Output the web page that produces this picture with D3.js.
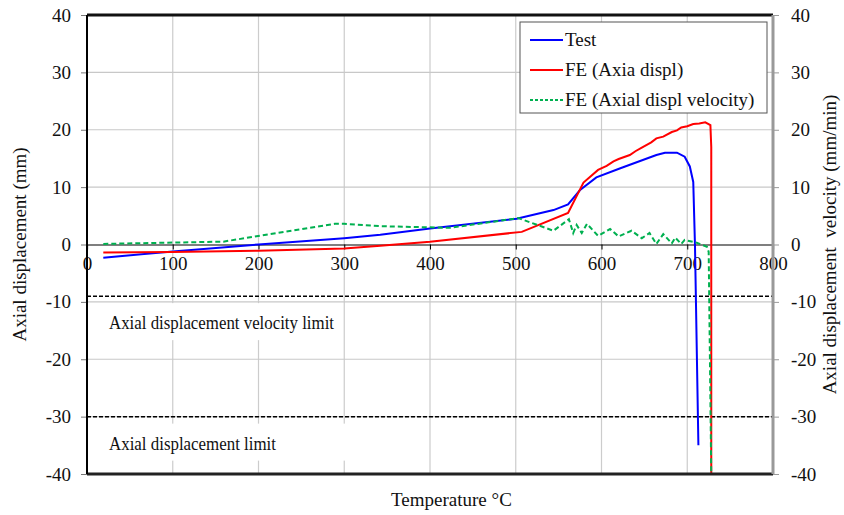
<!DOCTYPE html>
<html>
<head>
<meta charset="utf-8">
<script src="https://cdn.jsdelivr.net/npm/d3@7"></script>
<style>
  body { margin: 0; background: #fff; }
  svg text { font-family: "Liberation Serif", "Times New Roman", Times, serif !important; fill: #111; }
</style>
</head>
<body>
<div id="chart"></div>
<script>
// --- Data ---
const xTicks = [0, 100, 200, 300, 400, 500, 600, 700, 800];
const yTicks = [-40, -30, -20, -10, 0, 10, 20, 30, 40];

const testTemp = [19, 100, 200, 300, 342, 400, 501, 544, 561, 575, 594, 622, 664, 674, 688, 697, 703, 707, 709, 713];
const testDispl = [-2.3, -1.2, 0, 1.1, 1.7, 2.8, 4.5, 6.0, 7.0, 9.5, 11.7, 13.3, 15.6, 16.0, 16.0, 15.3, 13.6, 10.9, 0, -35];

const feTemp = [19, 100, 200, 300, 342, 360, 400, 507, 561, 579, 596, 606, 614, 620, 633, 640, 647, 658, 664, 672, 682, 688, 693, 700, 707, 714, 721, 727, 728, 728];
const feDispl = [-1.4, -1.3, -1.1, -0.7, -0.2, 0, 0.5, 2.2, 5.5, 10.8, 13.0, 13.7, 14.5, 14.9, 15.6, 16.3, 16.9, 17.8, 18.5, 18.8, 19.6, 19.9, 20.4, 20.6, 21.0, 21.1, 21.3, 20.8, 17.0, -40];

const velTemp = [19, 159, 289, 300, 342, 423, 503, 544, 562, 567, 571, 577, 583, 596, 610, 620, 635, 647, 656, 664, 672, 682, 686, 693, 697, 711, 723, 725, 728];
const velValue = [0.1, 0.5, 3.6, 3.6, 3.2, 2.9, 4.6, 2.4, 4.4, 2.0, 3.4, 2.0, 3.6, 1.5, 2.7, 1.4, 2.4, 1.1, 2.0, 0.1, 1.8, 0.2, 1.2, 0.1, 0.8, 0.3, -0.4, -1.3, -40];

const velocityLimit = -9;
const displacementLimit = -30;

const series = [
  { name: 'Test', x: testTemp, y: testDispl, color: '#0000ff', dash: null },
  { name: 'FE (Axia displ)', x: feTemp, y: feDispl, color: '#ff0000', dash: null },
  { name: 'FE (Axial displ velocity)', x: velTemp, y: velValue, color: '#00b050', dash: '5,3' }
];

// --- Layout ---
const W = 844, H = 515;
const margin = { top: 15, right: 71, bottom: 41, left: 87 };
const width = W - margin.left - margin.right;
const height = H - margin.top - margin.bottom;
const FONT = '"Liberation Serif", "Times New Roman", Times, serif';

const svg = d3.select('#chart').append('svg')
  .attr('width', W).attr('height', H)
  .attr('font-family', FONT);

const g = svg.append('g')
  .attr('transform', `translate(${margin.left},${margin.top})`);

const x = d3.scaleLinear().domain([0, 800]).range([0, width]);
const y = d3.scaleLinear().domain([-40, 40]).range([height, 0]);

// Gridlines
g.append('g').selectAll('line.vg')
  .data(xTicks.slice(1, -1)).enter().append('line')
  .attr('x1', d => x(d)).attr('x2', d => x(d))
  .attr('y1', 0).attr('y2', height)
  .attr('stroke', '#cccccc').attr('stroke-width', 1.2);

g.append('g').selectAll('line.hg')
  .data(yTicks.filter(d => d !== 0 && d !== 40 && d !== -40)).enter().append('line')
  .attr('x1', 0).attr('x2', width)
  .attr('y1', d => y(d)).attr('y2', d => y(d))
  .attr('stroke', '#c8c8c8').attr('stroke-width', 1.2);

// Limit labels with white boxes (they hide the gridlines behind them)
const limitLabels = [
  { text: 'Axial displacement velocity limit', yv: velocityLimit, len: 225, boxW: 246 },
  { text: 'Axial displacement limit', yv: displacementLimit, len: 167, boxW: 258 }
];
limitLabels.forEach(l => {
  const top = y(l.yv) + 7;
  g.append('rect')
    .attr('x', 8).attr('y', top)
    .attr('width', l.boxW).attr('height', 37)
    .attr('fill', '#fff');
  g.append('text')
    .attr('x', 22).attr('y', top + 26)
    .attr('font-size', 18)
    .attr('textLength', l.len)
    .attr('lengthAdjust', 'spacingAndGlyphs')
    .text(l.text);
});

// Dashed limit lines
g.append('g').selectAll('line.limit')
  .data([velocityLimit, displacementLimit]).enter().append('line')
  .attr('x1', 0).attr('x2', width)
  .attr('y1', d => y(d)).attr('y2', d => y(d))
  .attr('stroke', '#000').attr('stroke-width', 1.5)
  .attr('stroke-dasharray', '4,2');

function styleTicks(sel) {
  sel.attr('font-family', FONT);
  sel.selectAll('text')
    .style('font-family', FONT)
    .style('font-size', '19px')
    .attr('fill', '#111');
}

// Zero axis with ticks and labels
const xAxis = g.append('g')
  .attr('transform', `translate(0,${y(0)})`)
  .call(d3.axisBottom(x).tickValues(xTicks).tickSize(5).tickPadding(7).tickFormat(d => String(d)));
xAxis.select('.domain').attr('stroke', '#000').attr('stroke-width', 1.2);
xAxis.selectAll('line').attr('stroke', '#000');
styleTicks(xAxis);

// Left axis
const yLeft = g.append('g')
  .call(d3.axisLeft(y).tickValues(yTicks).tickSize(6).tickPadding(10).tickFormat(d => String(d)));
yLeft.select('.domain').remove();
yLeft.selectAll('line').attr('stroke', '#777');
styleTicks(yLeft);

// Right axis
const yRight = g.append('g')
  .attr('transform', `translate(${width},0)`)
  .call(d3.axisRight(y).tickValues(yTicks).tickSize(6).tickPadding(12).tickFormat(d => String(d)));
yRight.select('.domain').remove();
yRight.selectAll('line').attr('stroke', '#999');
styleTicks(yRight);

// Series
const line = d3.line().x(d => x(d[0])).y(d => y(d[1]));
series.forEach(s => {
  g.append('path')
    .datum(s.x.map((t, i) => [t, s.y[i]]))
    .attr('d', line)
    .attr('fill', 'none')
    .attr('stroke', s.color)
    .attr('stroke-width', 2)
    .attr('stroke-dasharray', s.dash);
});

// Frame
g.append('line').attr('x1', 0).attr('x2', width).attr('y1', 0).attr('y2', 0)
  .attr('stroke', '#111').attr('stroke-width', 3);
g.append('line').attr('x1', 0).attr('x2', width).attr('y1', height).attr('y2', height)
  .attr('stroke', '#222').attr('stroke-width', 3);
g.append('line').attr('x1', 0).attr('x2', 0).attr('y1', 0).attr('y2', height)
  .attr('stroke', '#000').attr('stroke-width', 2);
g.append('line').attr('x1', width).attr('x2', width).attr('y1', 0).attr('y2', height)
  .attr('stroke', '#999').attr('stroke-width', 3);

// Legend
const legend = g.append('g').attr('transform', `translate(${433},${7})`);
legend.append('rect')
  .attr('width', 247).attr('height', 91)
  .attr('fill', '#fff').attr('stroke', '#555').attr('stroke-width', 1);
series.forEach((s, i) => {
  const ly = 18 + i * 30;
  legend.append('line')
    .attr('x1', 10).attr('x2', 43).attr('y1', ly).attr('y2', ly)
    .attr('stroke', s.color).attr('stroke-width', 2)
    .attr('stroke-dasharray', s.dash ? '3,2' : null);
  legend.append('text')
    .attr('x', 45).attr('y', ly + 6)
    .attr('font-size', 19)
    .text(s.name);
});

// Axis titles
svg.append('text')
  .attr('transform', `translate(26,${margin.top + y(0)}) rotate(-90)`)
  .attr('text-anchor', 'middle')
  .attr('font-size', 19)
  .text('Axial displacement (mm)');

svg.append('text')
  .attr('transform', `translate(836,${margin.top + y(0)}) rotate(-90)`)
  .attr('text-anchor', 'middle')
  .attr('font-size', 19)
  .attr('xml:space', 'preserve')
  .text('Axial displacement  velocity (mm/min)');

svg.append('text')
  .attr('x', margin.left + x(425)).attr('y', 506)
  .attr('text-anchor', 'middle')
  .attr('font-size', 19)
  .text('Temperature °C');
</script>
</body>
</html>
